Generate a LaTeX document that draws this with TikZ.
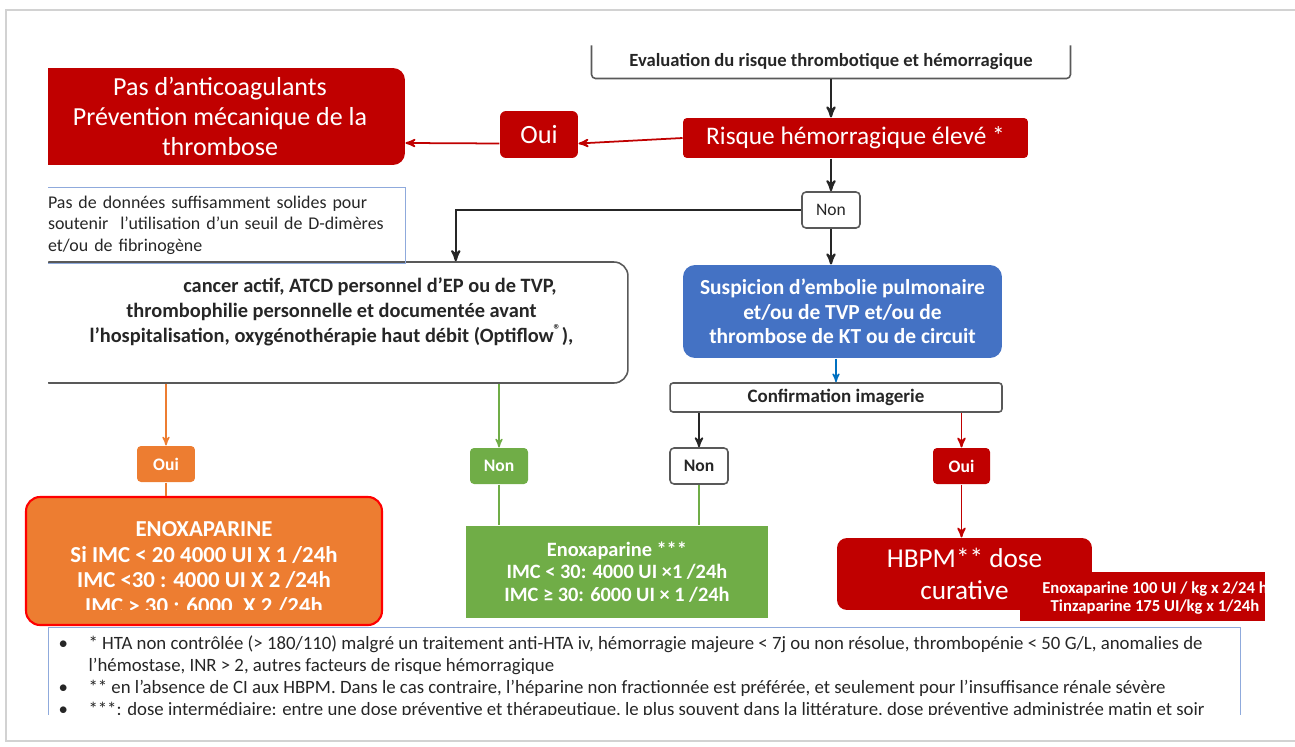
\documentclass[tikz,border=0pt]{standalone}
\usepackage{fontspec}
\setmainfont{Carlito}
\usetikzlibrary{arrows,positioning}

\definecolor{rouge}{HTML}{C00000}
\definecolor{orangeb}{HTML}{ED7D31}
\definecolor{vert}{HTML}{70AD47}
\definecolor{bleu}{HTML}{4472C4}
\definecolor{bleufl}{HTML}{0070C0}
\definecolor{bleuclair}{HTML}{8FAADC}
\definecolor{gristxt}{HTML}{262626}
\definecolor{grisbord}{HTML}{595959}

\begin{document}
\begin{tikzpicture}[x=0.02cm,y=-0.02cm,>=stealth',semithick]
	\tikzstyle{box}=[align=center,inner sep=0pt,rounded corners=0.8mm]
	\tikzstyle{redbox}=[box,fill=rouge,text=white]
	\tikzstyle{whitebox}=[box,draw=grisbord,fill=white,text=gristxt,line width=0.9pt]
	\tikzstyle{small}=[minimum width=11.6mm,minimum height=7.2mm,font=\fontsize{10}{12}\selectfont\bfseries]
	\tikzstyle{blackarr}=[->,draw=black!85,line width=1.2pt]
	\tikzstyle{redarr}=[->,draw=rouge,line width=1pt]
	\tikzstyle{greenline}=[draw=vert,line width=1pt]
	\tikzstyle{orangeline}=[draw=orangeb,line width=0.8pt]

	\useasboundingbox (0,0) rectangle (1295,747);
	\draw[gray!35,line width=1.5pt] (1295,10) -| (6,741) -- (1295,741);

	% boites coupees a gauche
	\begin{scope}
		\clip (48,0) rectangle (1295,747);
		\node[redbox,rounded corners=2.4mm,minimum width=74mm,minimum height=19.4mm,
			font=\fontsize{14.8}{17.3}\selectfont] (pas) at (220,116.5)
			{Pas d’anticoagulants\\Prévention mécanique de la\\thrombose};
		\node[whitebox,rounded corners=2.8mm,minimum width=118.6mm,minimum height=24.2mm,
			font=\fontsize{11.6}{14.2}\selectfont\bfseries] (cancer) at (331.5,322.5)
			{\hspace*{15.4mm}cancer actif, ATCD personnel d’EP ou de TVP,\\
			thrombophilie personnelle et documentée avant\\
			l’hospitalisation, oxygénothérapie haut débit (Optiflow\textsuperscript{®}),\\ ~};
		\node[draw=bleuclair,thin,inner xsep=2.6mm,inner ysep=0pt,text width=68.8mm,
			minimum height=15.2mm,align=left,text=gristxt,
			font=\fontsize{10.2}{12.3}\selectfont] (donnees) at (220,225)
			{Pas de données suffisamment solides pour\\
			soutenir~ l’utilisation d’un seuil de D-dimères\\
			et/ou de fibrinogène};
	\end{scope}

	\node[box,minimum width=95.6mm,minimum height=6.4mm,text=gristxt,
		font=\fontsize{10.6}{12}\selectfont\bfseries] (eval) at (831,62)
		{Evaluation du risque thrombotique et hémorragique};
	\draw[grisbord,line width=0.9pt,rounded corners=0.8mm]
		(eval.north west) |- (eval.south) -| (eval.north east);

	\node[redbox,minimum width=69mm,minimum height=8mm,
		font=\fontsize{14.4}{16}\selectfont] (risque) at (855.5,138) {Risque hémorragique élevé *};
	\node[redbox,rounded corners=1.2mm,minimum width=15.6mm,minimum height=9.4mm,
		font=\fontsize{15}{17}\selectfont] (oui1) at (539,134.5) {Oui};
	\node[whitebox,small,font=\fontsize{10}{12}\selectfont] (non1) at (831,210) {Non};

	\node[box,rounded corners=2.4mm,fill=bleu,text=white,minimum width=63.8mm,minimum height=18.6mm,
		font=\fontsize{12.2}{13.8}\selectfont\bfseries] (blue) at (842.5,311.5)
		{Suspicion d’embolie pulmonaire\\et/ou de TVP et/ou de\\thrombose de KT ou de circuit};
	\node[whitebox,rounded corners=0.6mm,minimum width=66.4mm,minimum height=5.8mm,
		font=\fontsize{10.8}{12}\selectfont\bfseries] (confirm) at (836,397.5) {Confirmation imagerie};

	\node[box,small,fill=orangeb,text=white] (oui3) at (166,464) {Oui};
	\node[box,small,fill=vert,text=white] (non3) at (499,466) {Non};
	\node[whitebox,small] (non2) at (699,466) {Non};
	\node[redbox,small,minimum width=11.4mm] (oui2) at (961.5,466) {Oui};

	% boites du bas
	\node[box,rounded corners=2.8mm,fill=orangeb,draw=red,line width=1.2pt,
		minimum width=71.2mm,minimum height=25.6mm] (enox) at (204,561) {};
	\begin{scope}
		\clip (26,497) rectangle (382,609);
		\node[align=center,text=white,font=\fontsize{13}{14.7}\selectfont\bfseries] (enoxtxt) at (204,568)
			{ENOXAPARINE\\Si IMC < 20 4000 UI X 1 /24h\\IMC <30 : 4000 UI X 2 /24h\\IMC > 30 : 6000~ X 2 /24h};
	\end{scope}
	\node[box,rounded corners=0pt,fill=vert,text=white,minimum width=60.4mm,minimum height=18.4mm,
		font=\fontsize{11.6}{12.8}\selectfont\bfseries] (green) at (617,572)
		{Enoxaparine ***\\IMC < 30: 4000 UI ×1 /24h\\IMC ≥ 30: 6000 UI × 1 /24h};
	\node[redbox,rounded corners=2mm,minimum width=51mm,minimum height=14.4mm,
		font=\fontsize{15.5}{18}\selectfont] (hbpm) at (964.5,574) {HBPM** dose\\curative};
	\node[redbox,rounded corners=0pt,minimum width=49mm,minimum height=9.8mm] (dose) at (1142.5,596.5) {};
	\begin{scope}
		\clip (dose.south west) rectangle (dose.north east);
		\node[align=center,text=white,font=\fontsize{9.5}{9.8}\selectfont\bfseries] (dosetxt) at (1155,598)
			{Enoxaparine 100 UI / kg x 2/24 h\\Tinzaparine 175 UI/kg x 1/24h};
	\end{scope}

	% notes
	\begin{scope}
		\clip (40,620) rectangle (1250,714);
		\draw[bleuclair,thin] (48,627) rectangle (1240,760);
		\node[anchor=north west,inner sep=0pt,text=gristxt,font=\fontsize{10.7}{12.5}\selectfont] (notes) at (58,634)
			{\begin{tabular}{@{}p{6mm}@{}l@{}}
			• & * HTA non contrôlée (> 180/110) malgré un traitement anti-HTA iv, hémorragie majeure < 7j ou non résolue, thrombopénie < 50 G/L, anomalies de\\
			  & l’hémostase, INR > 2, autres facteurs de risque hémorragique\\
			• & ** en l’absence de CI aux HBPM. Dans le cas contraire, l’héparine non fractionnée est préférée, et seulement pour l’insuffisance rénale sévère\\
			• & ***: dose intermédiaire: entre une dose préventive et thérapeutique, le plus souvent dans la littérature, dose préventive administrée matin et soir
			\end{tabular}};
	\end{scope}

	\draw[blackarr] (eval.south) -- (eval.south |- risque.north);
	\draw[redarr] (risque.west) -- ([yshift=-1.8mm]oui1.east);
	\draw[redarr] ([yshift=-1.8mm]oui1.west) -- ([yshift=-5.3mm]pas.east);
	\draw[blackarr] (non1 |- risque.south) -- (non1.north);
	\draw[blackarr] (non1.west) -| ([xshift=-34.6mm]cancer.north east);
	\draw[blackarr] (non1.south) -- (non1.south |- blue.north);
	\draw[->,draw=bleufl,line width=0.8pt] (blue.south -| confirm.north) -- (confirm.north);
	\draw[blackarr,line width=1pt] (non2 |- confirm.south) -- (non2.north);
	\draw[redarr] (oui2 |- confirm.south) -- (oui2.north);
	\draw[->,orangeline] (oui3 |- cancer.south) -- (oui3.north);
	\draw[->,greenline,line width=0.8pt] (non3 |- cancer.south) -- (non3.north);
	\draw[orangeline] (oui3.south) -- (oui3.south |- enox.north);
	\draw[greenline] (non3.south) -- (non3.south |- green.north);
	\draw[greenline] (non2.south) -- (non2.south |- green.north);
	\draw[redarr] (oui2.south) -- (oui2.south |- hbpm.north);
\end{tikzpicture}
\end{document}
